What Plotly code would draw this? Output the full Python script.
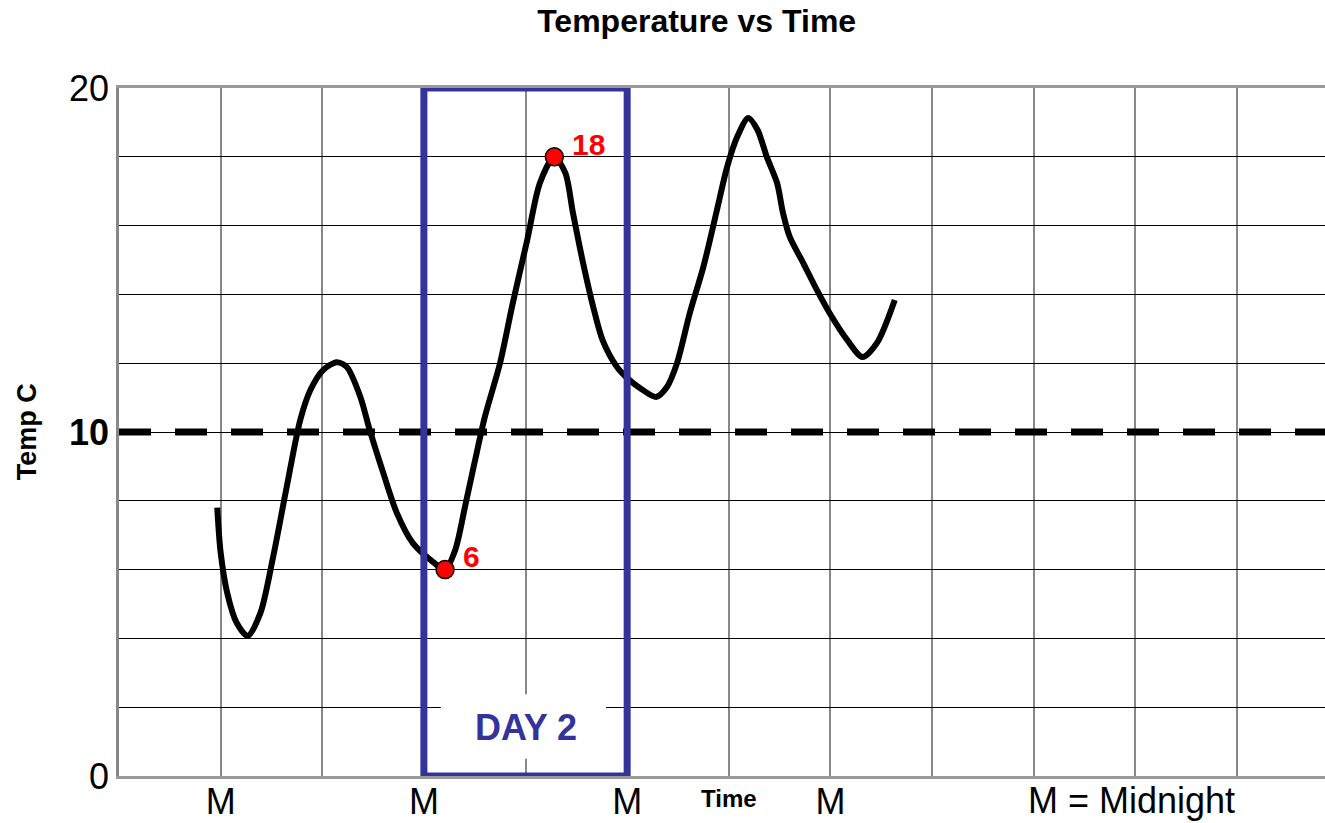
import plotly.graph_objects as go

# hours since start of record, temperature in C
hours = [11.6, 12.0, 12.8, 13.9, 15.2, 16.7, 18.2, 19.8, 21.4, 22.6, 24.1, 25.7, 26.9,
         28.5, 29.6, 31.2, 32.8, 34.7, 37.1, 38.5, 39.7, 40.9, 42.0, 43.2, 45.0, 46.5,
         48.2, 49.7, 51.4, 52.7, 53.6, 54.8, 56.0, 57.1, 58.8, 60.0, 61.5, 63.4, 64.7,
         65.9, 67.4, 69.0, 70.6, 71.8, 73.0, 74.3, 75.4, 76.5, 77.7, 78.4, 79.2, 80.8,
         82.4, 83.9, 86.0, 87.8, 89.5, 91.6]
temps = [7.8, 6.5, 5.3, 4.45, 4.07, 4.74, 6.37, 8.4, 10.35, 11.22, 11.8, 12.03, 11.89,
         11.02, 10.06, 8.81, 7.65, 6.77, 6.22, 6.0, 6.57, 7.88, 9.13, 10.44, 12.01, 13.75,
         15.58, 17.24, 18.0, 17.53, 16.37, 14.91, 13.63, 12.67, 11.89, 11.57, 11.28, 11.02, 11.31,
         12.01, 13.46, 14.8, 16.45, 17.7, 18.58, 19.13, 18.78, 17.99, 17.24, 16.37, 15.67, 14.91,
         14.13, 13.46, 12.67, 12.18, 12.59, 13.84]

marked_hours = [38.5, 51.4]
marked_temps = [6, 18]

threshold = 10
day2_start, day2_end = 36, 60

x_ticks = [12, 24, 36, 48, 60, 72, 84, 96, 108, 120, 132]
x_labels = ["M", "", "M", "", "M", "", "M", "", "", "", ""]
y_ticks = [0, 2, 4, 6, 8, 10, 12, 14, 16, 18, 20]
y_labels = ["0", "", "", "", "", "<b>10</b>", "", "", "", "", "20"]

FONT = "Liberation Sans, Arial, Helvetica, sans-serif"
BLUE = "#333399"

fig = go.Figure()
fig.add_trace(go.Scatter(x=hours, y=temps, mode='lines',
                         line=dict(color='black', width=6, shape='spline', smoothing=0.8),
                         hoverinfo='skip'))
fig.add_trace(go.Scatter(x=marked_hours, y=marked_temps, mode='markers',
                         marker=dict(color='red', size=18, line=dict(color='black', width=1.5))))

for h, t in zip(marked_hours, marked_temps):
    fig.add_annotation(x=h, y=t, text="<b>%d</b>" % t, showarrow=False, xanchor='left',
                       xshift=16, yshift=13 if t < 10 else 12,
                       font=dict(color='red', size=30, family=FONT))

fig.add_hline(y=threshold, line=dict(color='black', width=7, dash='32px,24px'))

# day 2 box with its label on a white patch
fig.add_shape(type='rect', x0=day2_start, x1=day2_end, y0=0, y1=20,
              line=dict(color=BLUE, width=7), layer='above')
fig.add_shape(type='rect', x0=38.0, x1=57.5, y0=0.5, y1=2.38,
              fillcolor='white', line=dict(width=0), layer='above')
fig.add_annotation(x=(day2_start + day2_end) / 2, y=1.4, text="<b>DAY 2</b>", showarrow=False,
                   font=dict(color=BLUE, size=36, family=FONT))

fig.add_annotation(x=72, y=-0.01, xref='x', yref='paper', yanchor='top', text="<b>Time</b>",
                   showarrow=False, font=dict(size=24, family=FONT, color='black'))
fig.add_annotation(x=119.6, y=-0.003, xref='x', yref='paper', yanchor='top', text="M = Midnight",
                   showarrow=False, font=dict(size=36, family=FONT, color='black'))
fig.add_annotation(x=-0.076, y=threshold, xref='paper', yref='y', xanchor='center', yanchor='middle',
                   text="<b>Temp C</b>", textangle=-90, showarrow=False,
                   font=dict(size=27, family=FONT, color='black'))

fig.update_layout(
    width=1325, height=823,
    margin=dict(l=119, r=0, t=88, b=47),
    paper_bgcolor='white', plot_bgcolor='white',
    showlegend=False,
    font=dict(family=FONT, color='black'),
    title=dict(text="<b>Temperature vs Time</b>", x=0.479, xref='paper', xanchor='center',
               y=1 - 21 / 823, yref='container', yanchor='middle',
               font=dict(size=32, family=FONT, color='black')),
)
fig.update_xaxes(range=[0, 142.4], tickvals=x_ticks, ticktext=x_labels, automargin=False,
                 showgrid=True, gridcolor='#888888', gridwidth=1.5,
                 showline=True, linecolor='#999999', linewidth=3, mirror=True,
                 zeroline=False, ticks='', ticklabelstandoff=-8,
                 tickfont=dict(size=36, family=FONT))
fig.update_yaxes(range=[0, 20], tickvals=y_ticks, ticktext=y_labels, automargin=False,
                 showgrid=True, gridcolor='black', gridwidth=1.2,
                 showline=True, linecolor='#888888', linewidth=2.5,
                 zeroline=False, ticks='', ticklabelstandoff=0,
                 tickfont=dict(size=36, family=FONT))

# page body has a default 8px margin; drop it so the figure fills the window
fig.write_html("out.html", config={'displayModeBar': False},
               post_script="document.body.style.margin='0';")
